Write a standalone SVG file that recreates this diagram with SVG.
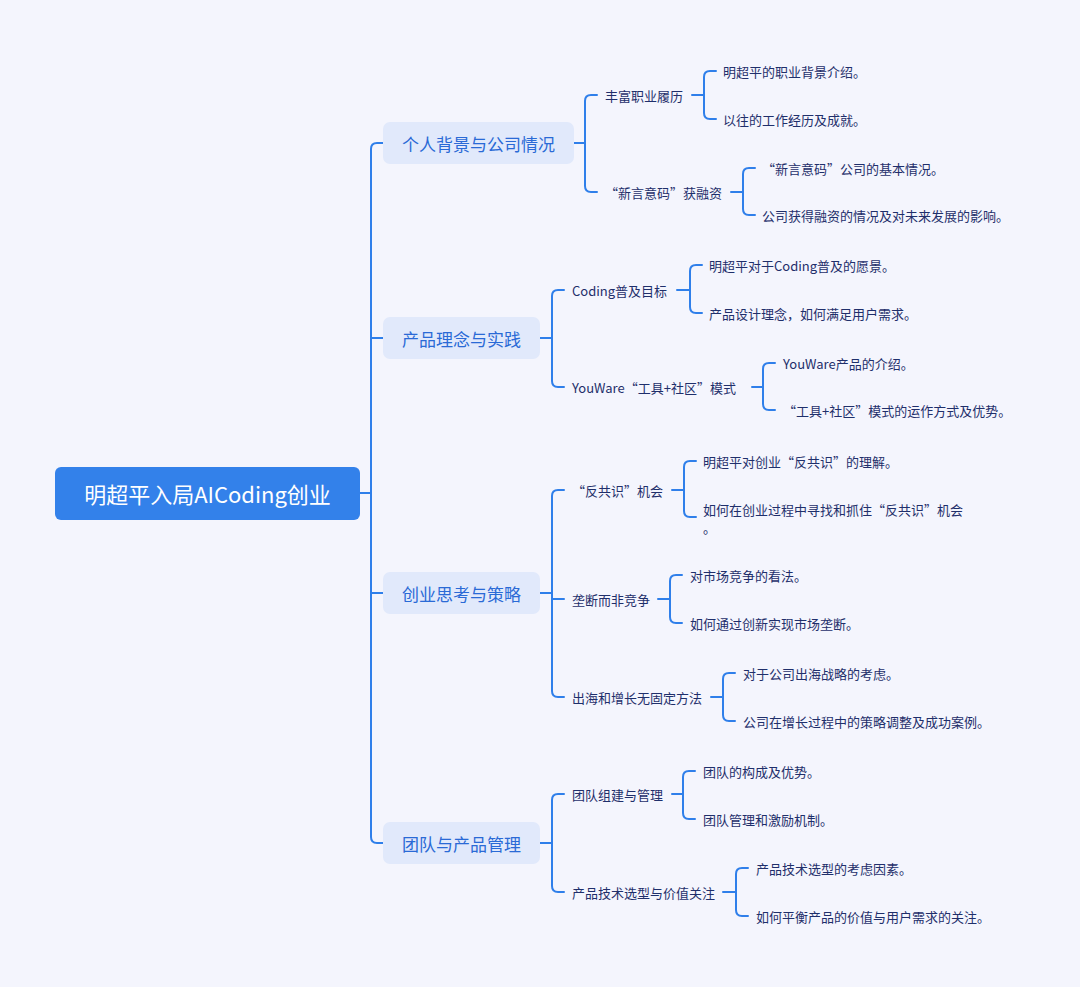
<svg xmlns="http://www.w3.org/2000/svg" width="1080" height="987" viewBox="0 0 1080 987">
<style>
text{font-family:"Noto Sans CJK SC","Noto Sans",sans-serif;dominant-baseline:central}
.root{fill:#ffffff;font-size:22px;text-anchor:middle}
.l1{fill:#2a6ad6;font-size:17px;text-anchor:middle}
.t{fill:#1f2f6b;font-size:13px}
.c{fill:none;stroke:#2f7fea;stroke-width:2;stroke-linecap:round;stroke-linejoin:round}
.b1{fill:#e1e9fb}
</style>
<rect width="1080" height="987" fill="#f4f5fd"/>
<g id="connectors" class="c">
<path d="M360,493 H371"/>
<path d="M383,143 H377 Q371,143 371,149 V837 Q371,843 377,843 H383"/>
<path d="M371,338 H383"/>
<path d="M371,593 H383"/>
<!-- group 1 -->
<path d="M574,143 H585"/>
<path d="M597,95 H591 Q585,95 585,101 V186 Q585,192 591,192 H597"/>
<path d="M692,95 H704"/>
<path d="M716,71 H710 Q704,71 704,77 V113 Q704,119 710,119 H716"/>
<path d="M731,192 H743"/>
<path d="M755,168 H749 Q743,168 743,174 V209 Q743,215 749,215 H755"/>
<!-- group 2 -->
<path d="M540,338 H552"/>
<path d="M564,290 H558 Q552,290 552,296 V381 Q552,387 558,387 H564"/>
<path d="M677,290 H690"/>
<path d="M702,265 H696 Q690,265 690,271 V307 Q690,313 696,313 H702"/>
<path d="M752,387 H763"/>
<path d="M775,363 H769 Q763,363 763,369 V404 Q763,410 769,410 H775"/>
<!-- group 3 -->
<path d="M540,593 H552"/>
<path d="M564,490 H558 Q552,490 552,496 V691 Q552,697 558,697 H564"/>
<path d="M552,599 H564"/>
<path d="M672,490 H684"/>
<path d="M696,461 H690 Q684,461 684,467 V511 Q684,517 690,517 H696"/>
<path d="M658,599 H670"/>
<path d="M682,575 H676 Q670,575 670,581 V617 Q670,623 676,623 H682"/>
<path d="M711,697 H723"/>
<path d="M735,673 H729 Q723,673 723,679 V715 Q723,721 729,721 H735"/>
<!-- group 4 -->
<path d="M540,843 H552"/>
<path d="M564,794 H558 Q552,794 552,800 V886 Q552,892 558,892 H564"/>
<path d="M672,794 H683"/>
<path d="M695,771 H689 Q683,771 683,777 V813 Q683,819 689,819 H695"/>
<path d="M723,892 H736"/>
<path d="M748,868 H742 Q736,868 736,874 V910 Q736,916 742,916 H748"/>
</g>
<g id="root">
<rect x="55" y="467" width="305" height="53" rx="6" fill="#3381ea"/>
<text class="root" x="207.5" y="493">明超平入局AICoding创业</text>
</g>
<g id="n1">
<rect class="b1" x="383" y="122" width="191" height="42" rx="7"/>
<text class="l1" x="478.5" y="143">个人背景与公司情况</text>
</g>
<g id="n1-1"><text class="t" x="605" y="95">丰富职业履历</text></g>
<g id="n1-1-1"><text class="t" x="723" y="71">明超平的职业背景介绍。</text></g>
<g id="n1-1-2"><text class="t" x="723" y="119">以往的工作经历及成就。</text></g>
<g id="n1-2"><text class="t" x="605" y="192">“新言意码”获融资</text></g>
<g id="n1-2-1"><text class="t" x="762" y="168">“新言意码”公司的基本情况。</text></g>
<g id="n1-2-2"><text class="t" x="762" y="215">公司获得融资的情况及对未来发展的影响。</text></g>
<g id="n2">
<rect class="b1" x="383" y="317" width="157" height="42" rx="7"/>
<text class="l1" x="461.5" y="338">产品理念与实践</text>
</g>
<g id="n2-1"><text class="t" x="572" y="290">Coding普及目标</text></g>
<g id="n2-1-1"><text class="t" x="709" y="265">明超平对于Coding普及的愿景。</text></g>
<g id="n2-1-2"><text class="t" x="709" y="313">产品设计理念，如何满足用户需求。</text></g>
<g id="n2-2"><text class="t" x="572" y="387">YouWare“工具+社区”模式</text></g>
<g id="n2-2-1"><text class="t" x="783" y="363">YouWare产品的介绍。</text></g>
<g id="n2-2-2"><text class="t" x="783" y="410">“工具+社区”模式的运作方式及优势。</text></g>
<g id="n3">
<rect class="b1" x="383" y="572" width="157" height="42" rx="7"/>
<text class="l1" x="461.5" y="593">创业思考与策略</text>
</g>
<g id="n3-1"><text class="t" x="572" y="490">“反共识”机会</text></g>
<g id="n3-1-1"><text class="t" x="703" y="461">明超平对创业“反共识”的理解。</text></g>
<g id="n3-1-2"><text class="t" x="703" y="509">如何在创业过程中寻找和抓住“反共识”机会</text><text class="t" x="703" y="527">。</text></g>
<g id="n3-2"><text class="t" x="572" y="599">垄断而非竞争</text></g>
<g id="n3-2-1"><text class="t" x="690" y="575">对市场竞争的看法。</text></g>
<g id="n3-2-2"><text class="t" x="690" y="623">如何通过创新实现市场垄断。</text></g>
<g id="n3-3"><text class="t" x="572" y="697">出海和增长无固定方法</text></g>
<g id="n3-3-1"><text class="t" x="743" y="673">对于公司出海战略的考虑。</text></g>
<g id="n3-3-2"><text class="t" x="743" y="721">公司在增长过程中的策略调整及成功案例。</text></g>
<g id="n4">
<rect class="b1" x="383" y="822" width="157" height="42" rx="7"/>
<text class="l1" x="461.5" y="843">团队与产品管理</text>
</g>
<g id="n4-1"><text class="t" x="572" y="794">团队组建与管理</text></g>
<g id="n4-1-1"><text class="t" x="703" y="771">团队的构成及优势。</text></g>
<g id="n4-1-2"><text class="t" x="703" y="819">团队管理和激励机制。</text></g>
<g id="n4-2"><text class="t" x="572" y="892">产品技术选型与价值关注</text></g>
<g id="n4-2-1"><text class="t" x="756" y="868">产品技术选型的考虑因素。</text></g>
<g id="n4-2-2"><text class="t" x="756" y="916">如何平衡产品的价值与用户需求的关注。</text></g>
</svg>
